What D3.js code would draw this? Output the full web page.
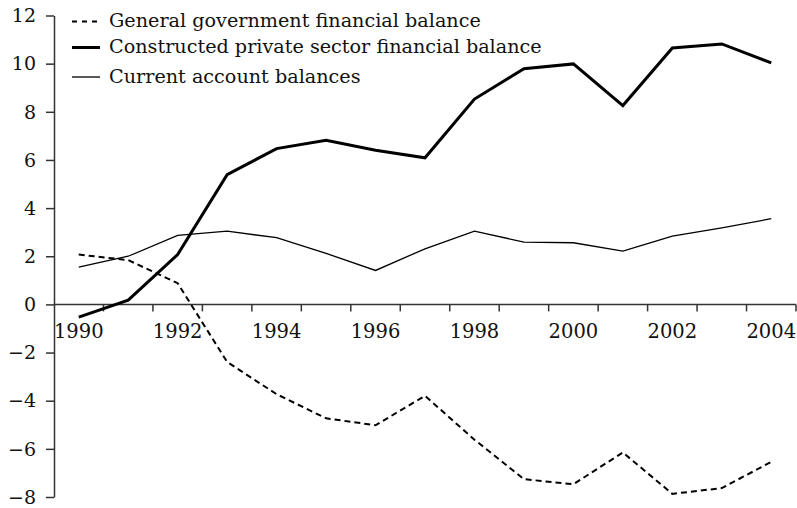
<!DOCTYPE html>
<html lang="en">
  <head>
    <meta charset="UTF-8">
    <title>Financial balances</title>
    <style>
      body { margin: 0; background: #fff; }
      svg text { font-family: "DejaVu Serif", serif; fill: #111; }
      .axis path, .axis line { stroke: #333; stroke-width: 1.5; fill: none; }
      .line { fill: none; stroke: #000; }
    </style>
    <script src="https://d3js.org/d3.v7.min.js"></script>
  </head>
  <body>
    <script>
      const years = d3.range(1990, 2005);
      const yTicks = [-8, -6, -4, -2, 0, 2, 4, 6, 8, 10, 12];

      const govBalance = [2.07, 1.84, 0.88, -2.39, -3.73, -4.73, -5.02, -3.8, -5.62, -7.26, -7.47, -6.15, -7.87, -7.63, -6.54];
      const privateBalance = [-0.53, 0.18, 2.07, 5.39, 6.47, 6.82, 6.4, 6.09, 8.53, 9.79, 9.99, 8.26, 10.65, 10.82, 10.03];
      const currentAccount = [1.55, 2.0, 2.87, 3.04, 2.77, 2.12, 1.41, 2.31, 3.04, 2.59, 2.56, 2.21, 2.84, 3.18, 3.56];

      const seriesNames = [
        "General government financial balance",
        "Constructed private sector financial balance",
        "Current account balances"
      ];

      const width = 797, height = 508;
      const styles = [
        { w: 2, dash: "6,4" },
        { w: 3, dash: null },
        { w: 1.3, dash: null }
      ];

      const svg = d3.select("body").append("svg")
        .attr("width", width)
        .attr("height", height);

      const x = d3.scaleBand().domain(years).range([54, 796]);
      const y = d3.scaleLinear().domain([-8, 12]).range([497, 15.5]);

      // y axis
      const yAxis = svg.append("g")
        .attr("class", "axis")
        .attr("transform", "translate(54,0)")
        .call(d3.axisLeft(y).tickValues(yTicks).tickSize(8).tickSizeOuter(0)
          .tickPadding(10).tickFormat(d => d < 0 ? "\u2212" + Math.abs(d) : d));
      yAxis.selectAll("text").style("font-size", "19px").attr("dy", "0.33em");

      // x axis at zero: ticks at band edges, labels at band centres
      const xg = svg.append("g").attr("class", "axis")
        .attr("transform", `translate(0,${y(0)})`);
      xg.append("line").attr("x1", 54).attr("x2", 796);
      xg.selectAll(".tk").data(years).join("line")
        .attr("x1", d => x(d) + x.bandwidth())
        .attr("x2", d => x(d) + x.bandwidth())
        .attr("y1", 0).attr("y2", 7);
      xg.selectAll(".lbl").data(years.filter(d => d % 2 === 0)).join("text")
        .attr("x", d => x(d) + x.bandwidth() / 2)
        .attr("y", 34)
        .attr("text-anchor", "middle")
        .style("font-size", "19.5px")
        .text(d => d);

      const line = d3.line()
        .x((d, i) => x(years[i]) + x.bandwidth() / 2)
        .y(d => y(d));

      [govBalance, privateBalance, currentAccount].forEach((vals, i) => {
        svg.append("path")
          .attr("class", "line")
          .attr("d", line(vals))
          .attr("stroke-width", styles[i].w)
          .attr("stroke-dasharray", styles[i].dash);
      });

      // legend
      const legendY = [21.5, 47.5, 77];
      const legend = svg.append("g");
      seriesNames.forEach((name, i) => {
        legend.append("line")
          .attr("x1", 72).attr("x2", 100)
          .attr("y1", legendY[i]).attr("y2", legendY[i])
          .attr("stroke", "#000")
          .attr("stroke-width", styles[i].w)
          .attr("stroke-dasharray", i === 0 ? "5,5" : null);
        legend.append("text")
          .attr("x", 109)
          .attr("y", legendY[i] + 5.5)
          .style("font-size", "19.2px")
          .text(name);
      });
    </script>
  </body>
</html>
